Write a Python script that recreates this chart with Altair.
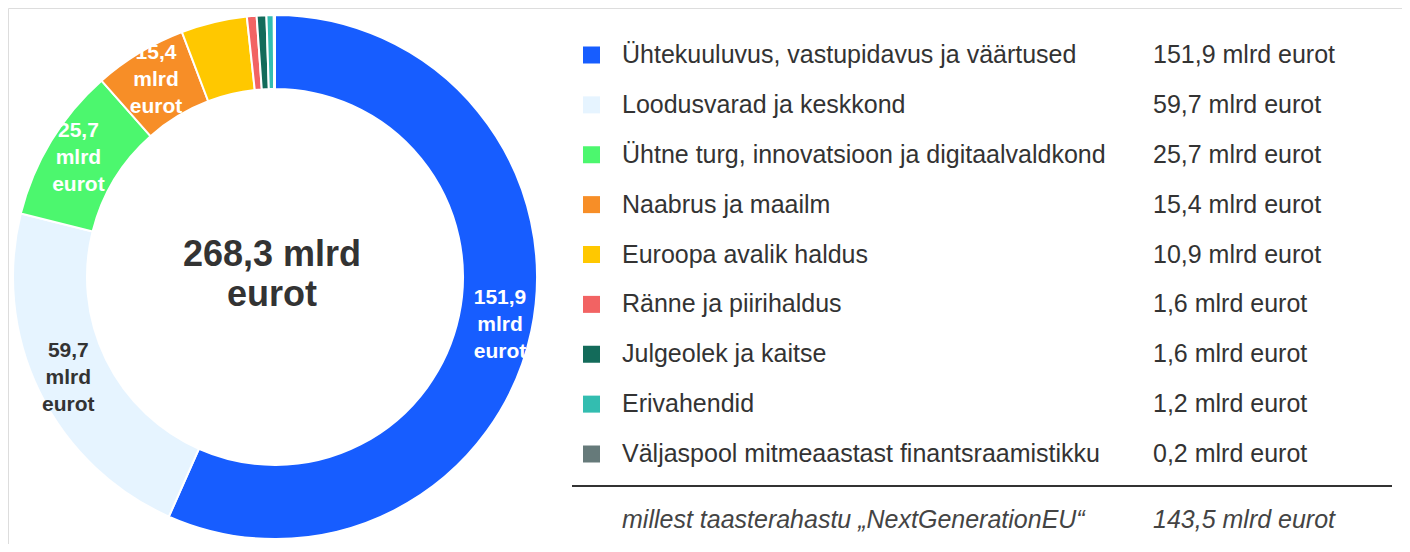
import altair as alt
import pandas as pd

categories = [
    "Ühtekuuluvus, vastupidavus ja väärtused",
    "Loodusvarad ja keskkond",
    "Ühtne turg, innovatsioon ja digitaalvaldkond",
    "Naabrus ja maailm",
    "Euroopa avalik haldus",
    "Ränne ja piirihaldus",
    "Julgeolek ja kaitse",
    "Erivahendid",
    "Väljaspool mitmeaastast finantsraamistikku",
]
values = [151.9, 59.7, 25.7, 15.4, 10.9, 1.6, 1.6, 1.2, 0.2]
value_labels = [
    "151,9 mlrd eurot", "59,7 mlrd eurot", "25,7 mlrd eurot", "15,4 mlrd eurot",
    "10,9 mlrd eurot", "1,6 mlrd eurot", "1,6 mlrd eurot", "1,2 mlrd eurot",
    "0,2 mlrd eurot",
]
slice_labels = ["151,9 mlrd eurot", "59,7 mlrd eurot", "25,7 mlrd eurot",
                "15,4 mlrd eurot", "", "", "", "", ""]
colors = ["#175DFF", "#E6F4FF", "#4CF76E", "#F78E27", "#FFC800",
          "#F26363", "#136B5A", "#33BDB0", "#667A7A"]
center_label = ["268,3 mlrd", "eurot"]
footnote_label = "millest taasterahastu „NextGenerationEU“"
footnote_value = "143,5 mlrd eurot"

df = pd.DataFrame({
    "idx": list(range(len(categories))),
    "cat": categories,
    "value": values,
    "vlabel": value_labels,
    "slabel": slice_labels,
})

CX, CY = 267, 269
FONT = "Liberation Sans"
TXT = "#333333"

color_scale = alt.Scale(domain=categories, range=colors)

base = alt.Chart(df)

arcs = base.mark_arc(innerRadius=188, outerRadius=262, stroke="white", strokeWidth=2).encode(
    theta=alt.Theta("value:Q", stack=True),
    order=alt.Order("idx:Q"),
    color=alt.Color("cat:N", scale=color_scale, legend=None),
    x=alt.value(CX), y=alt.value(CY),
)

slice_text = base.transform_calculate(
    lines="datum.slabel == '' ? '' : split(datum.slabel, ' ')",
    tcol="datum.idx == 1 ? '#333333' : '#ffffff'",
).mark_text(font=FONT, fontSize=21, fontWeight="bold", lineHeight=27,
            baseline="middle", align="center", dy=-27).encode(
    theta=alt.Theta("value:Q", stack=True),
    order=alt.Order("idx:Q"),
    radius=alt.value(230),
    text="lines:N",
    color=alt.Color("tcol:N", scale=None),
    x=alt.value(CX), y=alt.value(CY),
)

center = alt.Chart(pd.DataFrame({"t": [center_label]})).mark_text(
    font=FONT, fontSize=36, fontWeight="bold", lineHeight=40, color=TXT,
    baseline="middle", align="center", dy=-20,
).encode(text="t", x=alt.value(CX - 3), y=alt.value(CY - 2))

yscale = alt.Scale(domain=categories, range=[47, 446], padding=0)

squares = base.mark_square(size=289, opacity=1).encode(
    x=alt.value(583.5),
    y=alt.Y("cat:N", scale=yscale, axis=None),
    color=alt.Color("cat:N", scale=color_scale, legend=None),
)
names = base.mark_text(font=FONT, fontSize=25, color=TXT, align="left", baseline="middle").encode(
    x=alt.value(614),
    y=alt.Y("cat:N", scale=yscale, axis=None),
    text="cat:N",
)
vals = base.mark_text(font=FONT, fontSize=25, color=TXT, align="left", baseline="middle").encode(
    x=alt.value(1145),
    y=alt.Y("cat:N", scale=yscale, axis=None),
    text="vlabel:N",
)

rule = alt.Chart(pd.DataFrame({"a": [0]})).mark_rule(color="#333333", strokeWidth=2).encode(
    x=alt.value(564), x2=alt.value(1384), y=alt.value(478),
)

foot = alt.Chart(pd.DataFrame({"a": [footnote_label], "b": [footnote_value]}))
foot1 = foot.mark_text(font=FONT, fontSize=25, fontStyle="italic", color="#444444",
                       align="left", baseline="middle").encode(
    text="a:N", x=alt.value(614), y=alt.value(512))
foot2 = foot.mark_text(font=FONT, fontSize=25, fontStyle="italic", color="#444444",
                       align="left", baseline="middle").encode(
    text="b:N", x=alt.value(1145), y=alt.value(512))

chart = alt.layer(arcs, slice_text, center, squares, names, vals, rule, foot1, foot2).properties(
    width=1394, height=536, padding=0,
).configure_view(stroke=None).configure(background="white")

chart.save("out.html", embed_options={"renderer": "svg", "actions": False})
